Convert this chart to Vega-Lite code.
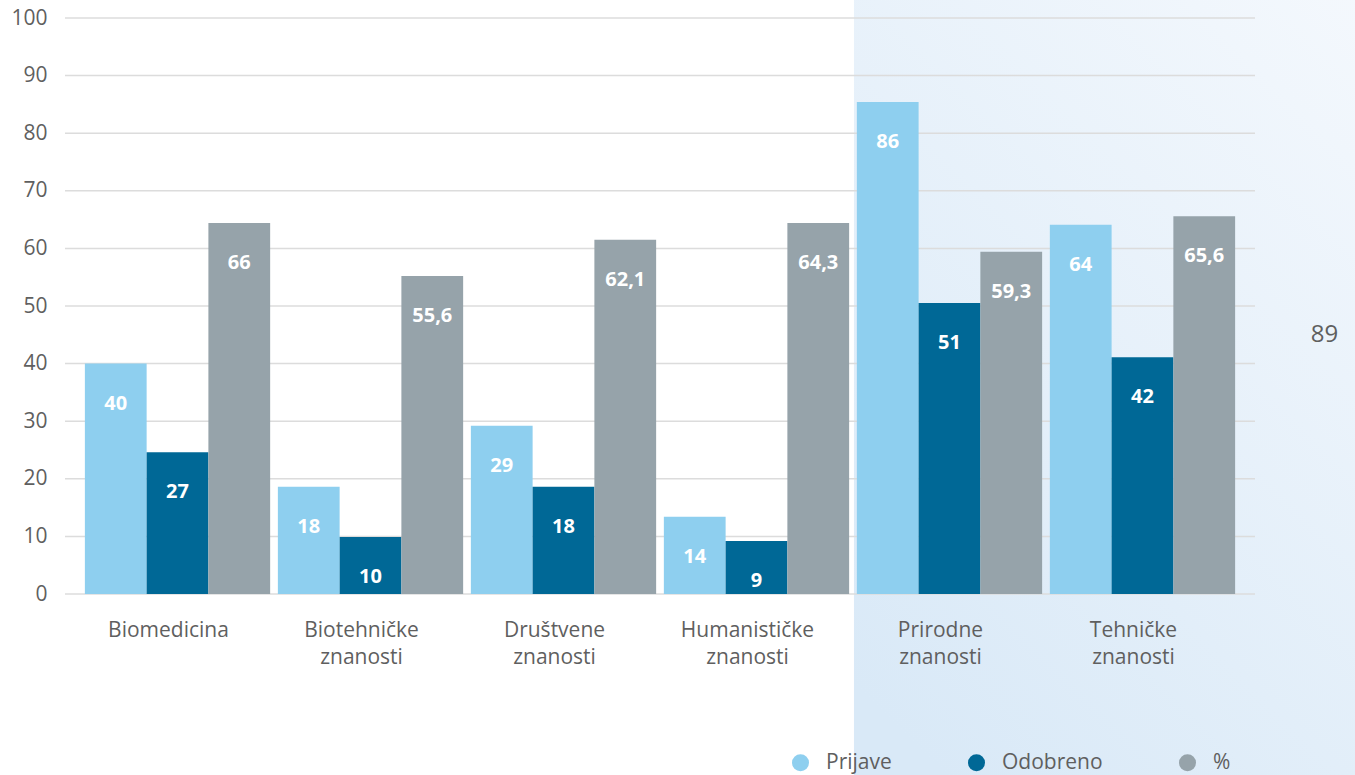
{
  "$schema": "https://vega.github.io/schema/vega-lite/v6.json",
  "width": 1190,
  "height": 576,
  "autosize": {"type": "none"},
  "padding": {"left": 65, "top": 18, "right": 100, "bottom": 181},
  "background": "#ffffff",
  "config": {
    "font": "Open Sans",
    "view": {"stroke": null}
  },
  "datasets": {
    "bars": [
      {"podrucje": "Biomedicina", "serija": "Prijave", "vrijednost": 40, "oznaka": "40"},
      {"podrucje": "Biomedicina", "serija": "Odobreno", "vrijednost": 24.6, "oznaka": "27"},
      {"podrucje": "Biomedicina", "serija": "%", "vrijednost": 64.4, "oznaka": "66"},
      {"podrucje": "Biotehničke znanosti", "serija": "Prijave", "vrijednost": 18.6, "oznaka": "18"},
      {"podrucje": "Biotehničke znanosti", "serija": "Odobreno", "vrijednost": 9.9, "oznaka": "10"},
      {"podrucje": "Biotehničke znanosti", "serija": "%", "vrijednost": 55.2, "oznaka": "55,6"},
      {"podrucje": "Društvene znanosti", "serija": "Prijave", "vrijednost": 29.2, "oznaka": "29"},
      {"podrucje": "Društvene znanosti", "serija": "Odobreno", "vrijednost": 18.6, "oznaka": "18"},
      {"podrucje": "Društvene znanosti", "serija": "%", "vrijednost": 61.5, "oznaka": "62,1"},
      {"podrucje": "Humanističke znanosti", "serija": "Prijave", "vrijednost": 13.4, "oznaka": "14"},
      {"podrucje": "Humanističke znanosti", "serija": "Odobreno", "vrijednost": 9.2, "oznaka": "9"},
      {"podrucje": "Humanističke znanosti", "serija": "%", "vrijednost": 64.4, "oznaka": "64,3"},
      {"podrucje": "Prirodne znanosti", "serija": "Prijave", "vrijednost": 85.4, "oznaka": "86"},
      {"podrucje": "Prirodne znanosti", "serija": "Odobreno", "vrijednost": 50.5, "oznaka": "51"},
      {"podrucje": "Prirodne znanosti", "serija": "%", "vrijednost": 59.4, "oznaka": "59,3"},
      {"podrucje": "Tehničke znanosti", "serija": "Prijave", "vrijednost": 64.1, "oznaka": "64"},
      {"podrucje": "Tehničke znanosti", "serija": "Odobreno", "vrijednost": 41.1, "oznaka": "42"},
      {"podrucje": "Tehničke znanosti", "serija": "%", "vrijednost": 65.6, "oznaka": "65,6"}
    ],
    "pozadina": [{"x0": 3.978, "x1": 7.5, "y0": -40, "y1": 110}],
    "mreza": [
      {"g": 0}, {"g": 10}, {"g": 20}, {"g": 30}, {"g": 40}, {"g": 50},
      {"g": 60}, {"g": 70}, {"g": 80}, {"g": 90}, {"g": 100}
    ],
    "biljeska": [{"x": 6.35, "y": 45, "t": "89"}]
  },
  "layer": [
    {
      "data": {"name": "pozadina"},
      "mark": {
        "type": "rect",
        "fill": {
          "gradient": "linear",
          "x1": 1, "y1": 0, "x2": 0.2, "y2": 1,
          "stops": [
            {"offset": 0, "color": "#f9fbfe"},
            {"offset": 1, "color": "#d9e9f7"}
          ]
        }
      },
      "encoding": {
        "x": {"field": "x0", "type": "quantitative", "scale": {"domain": [0, 6]}, "axis": null},
        "x2": {"field": "x1"},
        "y": {
          "field": "y0",
          "type": "quantitative",
          "scale": {"domain": [0, 100]},
          "axis": {
            "title": null,
            "values": [0, 10, 20, 30, 40, 50, 60, 70, 80, 90, 100],
            "labelFontSize": 21,
            "labelColor": "#5f5f5f",
            "labelPadding": 18,
            "ticks": false,
            "domain": false,
            "grid": false,
            "zindex": 1
          }
        },
        "y2": {"field": "y1"}
      }
    },
    {
      "data": {"name": "mreza"},
      "mark": {"type": "rule", "color": "#dcdcdc", "strokeWidth": 1.5},
      "encoding": {
        "y": {
          "field": "g",
          "type": "quantitative",
          "scale": {"domain": [0, 100]},
          "axis": {
            "title": null,
            "values": [0, 10, 20, 30, 40, 50, 60, 70, 80, 90, 100],
            "labelFontSize": 21,
            "labelColor": "#5f5f5f",
            "labelPadding": 18,
            "ticks": false,
            "domain": false,
            "grid": false,
            "zindex": 1
          }
        }
      }
    },
    {
      "data": {"name": "bars"},
      "encoding": {
        "x": {
          "field": "podrucje",
          "type": "nominal",
          "sort": null,
          "scale": {"paddingInner": 0.04, "paddingOuter": 0.103},
          "axis": {
            "title": null,
            "labelAngle": 0,
            "labelExpr": "split(datum.value, ' ')",
            "labelFontSize": 21,
            "labelColor": "#5f5f5f",
            "labelPadding": 25,
            "labelOffset": -9,
            "labelLineHeight": 27,
            "ticks": false,
            "domain": false,
            "grid": false,
            "zindex": 1
          }
        },
        "xOffset": {"field": "serija", "type": "nominal", "sort": ["Prijave", "Odobreno", "%"]},
        "y": {
          "field": "vrijednost",
          "type": "quantitative",
          "scale": {"domain": [0, 100]},
          "axis": {
            "title": null,
            "values": [0, 10, 20, 30, 40, 50, 60, 70, 80, 90, 100],
            "labelFontSize": 21,
            "labelColor": "#5f5f5f",
            "labelPadding": 18,
            "ticks": false,
            "domain": false,
            "grid": false,
            "zindex": 1
          }
        }
      },
      "layer": [
        {
          "mark": {"type": "bar"},
          "encoding": {
            "color": {
              "field": "serija",
              "type": "nominal",
              "scale": {"domain": ["Prijave", "Odobreno", "%"], "range": ["#8ecfef", "#006896", "#96a3aa"]},
              "legend": {
                "title": null,
                "orient": "none",
                "direction": "horizontal",
                "legendX": 725,
                "legendY": 734,
                "symbolType": "circle",
                "symbolSize": 290,
                "symbolOpacity": 1,
                "labelFontSize": 21,
                "labelColor": "#5f5f5f",
                "labelOffset": 15,
                "columnPadding": 74,
                "padding": 0
              }
            }
          }
        },
        {
          "mark": {"type": "text", "color": "#ffffff", "fontSize": 20, "fontWeight": "bold", "baseline": "middle", "dy": 40},
          "encoding": {"text": {"field": "oznaka"}}
        }
      ]
    },
    {
      "data": {"name": "biljeska"},
      "mark": {"type": "text", "fontSize": 24, "color": "#5f5f5f", "baseline": "middle"},
      "encoding": {
        "x": {"field": "x", "type": "quantitative", "scale": {"domain": [0, 6]}, "axis": null},
        "y": {
          "field": "y",
          "type": "quantitative",
          "scale": {"domain": [0, 100]},
          "axis": {
            "title": null,
            "values": [0, 10, 20, 30, 40, 50, 60, 70, 80, 90, 100],
            "labelFontSize": 21,
            "labelColor": "#5f5f5f",
            "labelPadding": 18,
            "ticks": false,
            "domain": false,
            "grid": false,
            "zindex": 1
          }
        },
        "text": {"field": "t"}
      }
    }
  ],
  "resolve": {"scale": {"x": "independent"}}
}
